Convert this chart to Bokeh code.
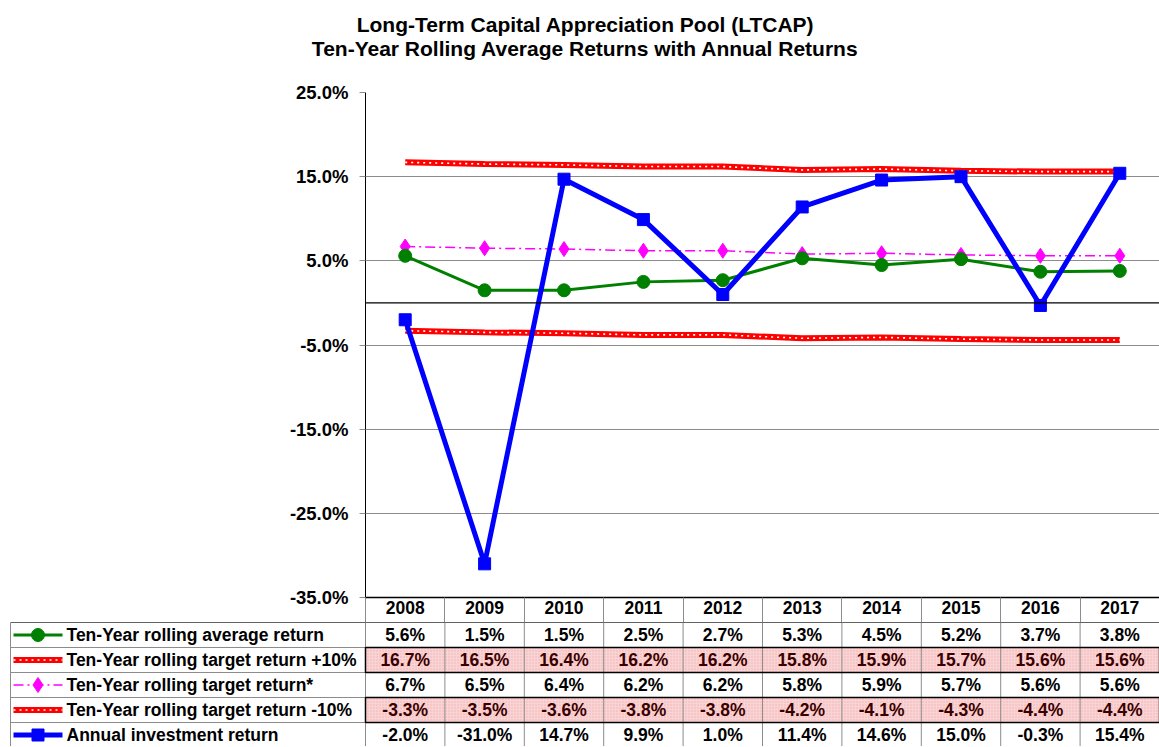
import numpy as np
from bokeh.plotting import figure
from bokeh.models import (Range1d, FixedTicker, PrintfTickFormatter, Span, ColumnDataSource)
from bokeh.core.properties import value
from bokeh.embed import file_html
from bokeh.resources import INLINE

# ---------------- data ----------------
years = ["2008", "2009", "2010", "2011", "2012", "2013", "2014", "2015", "2016", "2017"]
avg_return = [5.6, 1.5, 1.5, 2.5, 2.7, 5.3, 4.5, 5.2, 3.7, 3.8]
target_plus = [16.7, 16.5, 16.4, 16.2, 16.2, 15.8, 15.9, 15.7, 15.6, 15.6]
target = [6.7, 6.5, 6.4, 6.2, 6.2, 5.8, 5.9, 5.7, 5.6, 5.6]
target_minus = [-3.3, -3.5, -3.6, -3.8, -3.8, -4.2, -4.1, -4.3, -4.4, -4.4]
annual = [-2.0, -31.0, 14.7, 9.9, 1.0, 11.4, 14.6, 15.0, -0.3, 15.4]
y_ticks = [-35, -25, -15, -5, 5, 15, 25]
row_labels = ["Ten-Year rolling average return",
              "Ten-Year rolling target return +10%",
              "Ten-Year rolling target return*",
              "Ten-Year rolling target return -10%",
              "Annual investment return"]
title_lines = ["Long-Term Capital Appreciation Pool (LTCAP)",
               "Ten-Year Rolling Average Returns with Annual Returns"]

FONT = "Liberation Sans"
W = 1159
LEFT = 365
n = len(years)
xs = np.arange(n) + 0.5
K = (W - LEFT) / n  # px per column

GREEN = "#008000"
MAG = "#FF00FF"
RED = "#FF0000"
BLUE = "#0000FF"
GRID = "#8c8c8c"
TXT = "17.5px"
HEADER = 25


def blank(fig):
    fig.axis.visible = False
    fig.grid.visible = False
    fig.outline_line_color = None
    fig.background_fill_color = "white"
    fig.border_fill_color = "white"


# ---------------- title ----------------
TITLE_H = 76
tt = figure(width=W, height=TITLE_H, x_range=Range1d(0, W), y_range=Range1d(TITLE_H, 0),
            output_backend="svg", toolbar_location=None,
            min_border_left=0, min_border_right=0, min_border_top=0, min_border_bottom=0)
blank(tt)
tsrc = ColumnDataSource(dict(x=[585, 585], y=[24, 48], txt=title_lines))
tt.text(x="x", y="y", text="txt", source=tsrc, text_align="center", text_baseline="middle",
        text_font=value(FONT), text_font_style="bold", text_font_size="21px", text_color="black")

# ---------------- chart ----------------
p = figure(width=W, height=16 + 505 + HEADER, x_range=Range1d(0, n), y_range=Range1d(-35, 25),
           output_backend="svg", toolbar_location=None,
           min_border_left=LEFT, min_border_right=0, min_border_top=16, min_border_bottom=HEADER)
p.outline_line_color = None
p.background_fill_color = "white"
p.border_fill_color = "white"
p.xgrid.visible = False
p.ygrid.ticker = FixedTicker(ticks=y_ticks)
p.ygrid.grid_line_color = GRID
p.ygrid.grid_line_width = 1

ya = p.yaxis[0]
ya.ticker = FixedTicker(ticks=y_ticks)
ya.formatter = PrintfTickFormatter(format="%.1f%%")
ya.major_label_text_font = FONT
ya.major_label_text_font_style = "bold"
ya.major_label_text_font_size = "18.5px"
ya.major_label_text_color = "black"
ya.major_tick_out = 6
ya.major_tick_in = 0
ya.major_tick_line_color = GRID
ya.minor_tick_line_color = None
ya.axis_line_color = "black"
ya.major_label_standoff = 11

xa = p.xaxis[0]
xa.ticker = FixedTicker(ticks=list(xs), minor_ticks=list(range(n + 1)))
xa.major_label_overrides = {float(x): y for x, y in zip(xs, years)}
xa.major_label_text_font = FONT
xa.major_label_text_font_style = "bold"
xa.major_label_text_font_size = TXT
xa.major_label_text_color = "black"
xa.major_tick_out = 0
xa.major_tick_in = 0
xa.major_label_standoff = -HEADER + 3
xa.minor_tick_out = HEADER
xa.minor_tick_in = 0
xa.minor_tick_line_color = GRID
xa.axis_line_color = "black"
xa.axis_line_width = 1.5

p.add_layout(Span(location=0, dimension="width", line_color="black", line_width=1.2))

# red target bands (thick red with white dots)
for vals in (target_plus, target_minus):
    p.line(xs, vals, line_color=RED, line_width=6)
    p.line(xs, vals, line_color="white", line_width=1.6, line_dash="2 4")

# magenta target
p.line(xs, target, line_color=MAG, line_width=1.5, line_dash="10 4 2 4")
p.scatter(xs, target, marker="diamond", size=15, fill_color=MAG, line_color=MAG)

# green avg
p.line(xs, avg_return, line_color=GREEN, line_width=3)
p.scatter(xs, avg_return, marker="circle", size=13, fill_color=GREEN, line_color=GREEN)

# blue annual
p.line(xs, annual, line_color=BLUE, line_width=5)
p.scatter(xs, annual, marker="square", size=12, fill_color=BLUE, line_color=BLUE)

# ---------------- table ----------------
nrows = len(row_labels)
TH = 124
ROW = 25
start = n - W / K
t = figure(width=W, height=TH, x_range=Range1d(start, n), y_range=Range1d(TH / ROW, 0),
           output_backend="svg", toolbar_location=None,
           min_border_left=0, min_border_right=0, min_border_top=0, min_border_bottom=0)
blank(t)

pink_rows = [1, 3]
for r in pink_rows:
    t.quad(left=0, right=n, top=r, bottom=r + 1, fill_color="#fad4d4", line_color=None,
           hatch_pattern="dot", hatch_color="#e89a9a", hatch_scale=3, hatch_alpha=0.6)

lx = start + 10 / K
t.segment(x0=[lx] * (nrows + 1), y0=list(range(nrows + 1)), x1=[n] * (nrows + 1),
          y1=list(range(nrows + 1)), line_color=GRID, line_width=1)
t.segment(x0=[lx], y0=[0], x1=[n], y1=[0], line_color="black", line_width=1.2)
vx = [lx] + list(range(n + 1))
t.segment(x0=vx, y0=[0] * len(vx), x1=vx, y1=[nrows] * len(vx), line_color=GRID, line_width=1)
for r in pink_rows:
    t.quad(left=0, right=n, top=r, bottom=r + 1, fill_color=None, line_color="black",
           line_width=1.5)

series = [avg_return, target_plus, target, target_minus, annual]
for r, vals in enumerate(series):
    col = "#3a0000" if r in pink_rows else "black"
    src = ColumnDataSource(dict(x=xs, y=[r + 0.5] * n, txt=["%.1f%%" % v for v in vals]))
    t.text(x="x", y="y", text="txt", source=src, text_align="center", text_baseline="middle",
           text_font=value(FONT), text_font_style="bold", text_font_size=TXT, text_color=col)

# legend icons
ix0 = start + 13 / K
ix1 = start + 62 / K
im = (ix0 + ix1) / 2
ry = [r + 0.5 for r in range(nrows)]
t.line([ix0, ix1], [ry[0]] * 2, line_color=GREEN, line_width=3)
t.scatter([im], [ry[0]], marker="circle", size=13, fill_color=GREEN, line_color=GREEN)
for r in pink_rows:
    t.line([ix0, ix1], [ry[r]] * 2, line_color=RED, line_width=6)
    t.line([ix0, ix1], [ry[r]] * 2, line_color="white", line_width=1.6, line_dash="2 4")
t.line([ix0, ix1], [ry[2]] * 2, line_color=MAG, line_width=1.5, line_dash="10 4 2 4")
t.scatter([im], [ry[2]], marker="diamond", size=15, fill_color=MAG, line_color=MAG)
t.line([ix0, ix1], [ry[4]] * 2, line_color=BLUE, line_width=5)
t.scatter([im], [ry[4]], marker="square", size=12, fill_color=BLUE, line_color=BLUE)

lsrc = ColumnDataSource(dict(x=[start + 66 / K] * nrows, y=ry, txt=row_labels))
t.text(x="x", y="y", text="txt", source=lsrc, text_align="left", text_baseline="middle",
       text_font=value(FONT), text_font_style="bold", text_font_size=TXT, text_color="black")

open("out.html", "w").write(file_html([tt, p, t], INLINE))
